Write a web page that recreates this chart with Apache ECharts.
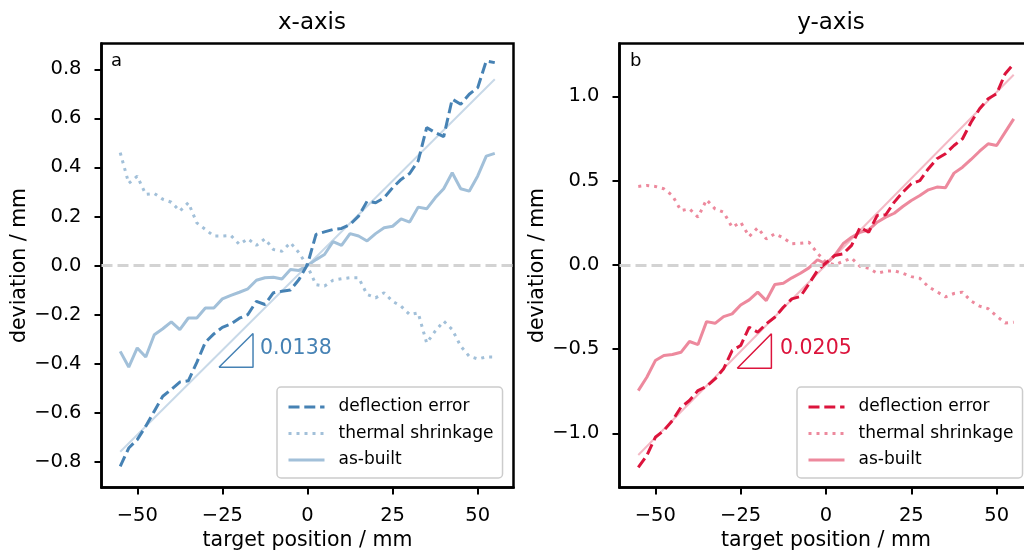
<!DOCTYPE html>
<html>
<head>
<meta charset="utf-8">
<script src="https://cdn.jsdelivr.net/npm/echarts@6/dist/echarts.min.js"></script>
<style>
  html, body { margin: 0; padding: 0; background: #fff; }
  #chart { width: 1024px; height: 550px; }
</style>
</head>
<body>
<div id="chart"></div>
<script>
// target positions (mm)
var xs = [-55, -52.5, -50, -47.5, -45, -42.5, -40, -37.5, -35, -32.5, -30, -27.5, -25, -22.5, -20, -17.5, -15, -12.5, -10, -7.5, -5, -2.5, 0,
  2.5, 5, 7.5, 10, 12.5, 15, 17.5, 20, 22.5, 25, 27.5, 30, 32.5, 35, 37.5, 40, 42.5, 45, 47.5, 50, 52.5, 55];

// panel a : x-axis
var defA = [-0.819, -0.744, -0.71, -0.655, -0.594, -0.533, -0.505, -0.475, -0.47, -0.395, -0.313, -0.279, -0.252, -0.238, -0.215, -0.2, -0.146, -0.159, -0.111, -0.105, -0.1, -0.057, 0.004,
  0.127, 0.137, 0.147, 0.151, 0.167, 0.201, 0.262, 0.256, 0.276, 0.317, 0.351, 0.375, 0.426, 0.562, 0.542, 0.525, 0.678, 0.657, 0.698, 0.725, 0.834, 0.827];
var thermA = [0.46, 0.335, 0.364, 0.29, 0.294, 0.27, 0.258, 0.222, 0.256, 0.174, 0.147, 0.12, 0.12, 0.122, 0.086, 0.109, 0.082, 0.109, 0.065, 0.058, 0.093, 0.052, -0.003,
  -0.078, -0.084, -0.06, -0.054, -0.05, -0.05, -0.118, -0.132, -0.111, -0.146, -0.166, -0.2, -0.193, -0.316, -0.268, -0.227, -0.261, -0.329, -0.37, -0.381, -0.373, -0.373];
var asA = [-0.35, -0.414, -0.336, -0.373, -0.282, -0.258, -0.23, -0.261, -0.214, -0.214, -0.173, -0.173, -0.136, -0.122, -0.109, -0.095, -0.06, -0.05, -0.048, -0.055, -0.016, -0.02, 0.0,
  0.024, 0.045, 0.097, 0.082, 0.13, 0.12, 0.1, 0.13, 0.154, 0.16, 0.19, 0.177, 0.238, 0.231, 0.276, 0.313, 0.378, 0.313, 0.303, 0.365, 0.446, 0.457];

// panel b : y-axis
var defB = [-1.201, -1.132, -1.023, -0.983, -0.924, -0.845, -0.805, -0.746, -0.722, -0.677, -0.617, -0.509, -0.479, -0.37, -0.4, -0.35, -0.311, -0.252, -0.202, -0.188, -0.113, -0.034, 0.012,
  0.055, 0.065, 0.115, 0.223, 0.193, 0.293, 0.297, 0.372, 0.431, 0.481, 0.5, 0.57, 0.629, 0.659, 0.708, 0.748, 0.846, 0.926, 0.985, 1.015, 1.134, 1.193];
var thermB = [0.465, 0.471, 0.465, 0.451, 0.411, 0.322, 0.332, 0.283, 0.386, 0.332, 0.312, 0.223, 0.253, 0.168, 0.22, 0.154, 0.184, 0.16, 0.125, 0.128, 0.134, 0.069, 0.015,
  0.0, 0.02, 0.04, -0.01, -0.02, -0.05, -0.038, -0.035, -0.05, -0.07, -0.08, -0.13, -0.16, -0.19, -0.17, -0.162, -0.215, -0.245, -0.26, -0.305, -0.345, -0.34];
var asB = [-0.746, -0.667, -0.568, -0.538, -0.532, -0.519, -0.455, -0.473, -0.337, -0.347, -0.307, -0.291, -0.238, -0.208, -0.162, -0.212, -0.117, -0.109, -0.077, -0.05, -0.018, 0.03, 0.006,
  0.055, 0.125, 0.164, 0.193, 0.208, 0.253, 0.283, 0.306, 0.346, 0.382, 0.411, 0.445, 0.461, 0.457, 0.544, 0.579, 0.625, 0.674, 0.718, 0.708, 0.787, 0.866];

// linear fits (end points) and slope triangles
var fitX = [-55, 55];
var fitA = [-0.759, 0.759];
var fitB = [-1.128, 1.128];
var triAX = [-26, -16, -16, -26];
var triAY = [-0.415, -0.415, -0.277, -0.415];
var triBX = [-26, -16, -16, -26];
var triBY = [-0.614, -0.614, -0.409, -0.614];

var xTicks = [-50, -25, 0, 25, 50];
var yTicksA = [-0.8, -0.6, -0.4, -0.2, 0, 0.2, 0.4, 0.6, 0.8];
var yTicksB = [-1, -0.5, 0, 0.5, 1];
var names = ['deflection error', 'thermal shrinkage', 'as-built'];

var FONT = 'DejaVu Sans';
var BLUE = '#4682b4', BLUE_L = '#a2c0d9', BLUE_F = '#c8d9e8';
var RED = '#dc143c', RED_L = '#ed899d', RED_F = '#f4b9c5';

function pts(x, y) {
  return x.map(function (v, i) { return [v, y[i]]; });
}
function minus(s) { return String(s).replace('-', '\u2212'); }

function xAx(i) {
  return {
    type: 'value', gridIndex: i, min: -60.5, max: 60.5,
    name: 'target position / mm', nameLocation: 'middle', nameGap: 38,
    nameTextStyle: { fontFamily: FONT, fontSize: 20.5, color: '#000' },
    axisLine: { show: true, onZero: false, lineStyle: { color: '#000', width: 2.5 } },
    axisTick: { show: true, length: 7, customValues: xTicks, lineStyle: { color: '#000', width: 2 } },
    axisLabel: { customValues: xTicks, margin: 18, fontFamily: FONT, fontSize: 19.5, color: '#000',
      formatter: function (v) { return minus(v); } },
    splitLine: { show: false }
  };
}
function yAx(i, min, max, ticks, dec) {
  return {
    type: 'value', gridIndex: i, min: min, max: max,
    name: 'deviation / mm', nameLocation: 'middle', nameGap: 67,
    nameTextStyle: { fontFamily: FONT, fontSize: 20.5, color: '#000' },
    axisLine: { show: true, onZero: false, lineStyle: { color: '#000', width: 2.5 } },
    axisTick: { show: true, length: 7, customValues: ticks, lineStyle: { color: '#000', width: 2 } },
    axisLabel: { customValues: ticks, margin: 20, fontFamily: FONT, fontSize: 19.5, color: '#000',
      formatter: function (v) { return minus(v.toFixed(dec)); } },
    splitLine: { show: false }
  };
}

function panel(i, tag, dev, therm, asb, fit, tx, ty, c, cl, cf) {
  var base = { type: 'line', xAxisIndex: i, yAxisIndex: i, symbol: 'none', showSymbol: false, silent: true, animation: false };
  return [
    Object.assign({}, base, {
      name: tag + '|fit', data: pts(fitX, fit), z: 1,
      lineStyle: { color: cf, width: 2 },
      markLine: { silent: true, symbol: ['none', 'none'], label: { show: false },
        lineStyle: { color: '#d3d3d3', width: 3, type: [11, 5] }, data: [{ yAxis: 0 }] }
    }),
    Object.assign({}, base, {
      name: tag + '|' + names[0], data: pts(xs, dev), z: 4,
      itemStyle: { color: c }, lineStyle: { color: c, width: 3, type: [11, 4.8] }
    }),
    Object.assign({}, base, {
      name: tag + '|' + names[1], data: pts(xs, therm), z: 3,
      itemStyle: { color: cl }, lineStyle: { color: cl, width: 3, type: [3, 5] }
    }),
    Object.assign({}, base, {
      name: tag + '|' + names[2], data: pts(xs, asb), z: 3,
      itemStyle: { color: cl }, lineStyle: { color: cl, width: 3 }
    }),
    Object.assign({}, base, {
      name: tag + '|tri', data: pts(tx, ty), z: 5,
      lineStyle: { color: c, width: 1.5 }
    })
  ];
}

function legend(tag, left) {
  return {
    orient: 'vertical', left: left, top: 387,
    data: names.map(function (n) { return tag + '|' + n; }),
    formatter: function (n) { return n.split('|')[1]; },
    itemWidth: 36, itemHeight: 14, itemGap: 6.5,
    padding: [10, 9, 8, 10],
    itemStyle: { color: 'transparent', borderWidth: 0, opacity: 0 },
    lineStyle: { width: 3 },
    backgroundColor: 'rgba(255,255,255,0.8)',
    borderColor: '#cccccc', borderWidth: 1.5, borderRadius: 4,
    selectedMode: false,
    textStyle: { fontFamily: FONT, fontSize: 17, lineHeight: 20, color: '#000', padding: [0, 0, 0, 9] }
  };
}

function gridBox(left, width) {
  return { left: left, top: 43.5, width: width, height: 444, outerBoundsMode: 'none', containLabel: false,
    show: true, borderColor: '#000', borderWidth: 2.5, backgroundColor: 'transparent' };
}

var chart = echarts.init(document.getElementById('chart'), null, { renderer: 'canvas' });
chart.setOption({
  backgroundColor: '#fff',
  animation: false,
  textStyle: { fontFamily: FONT },
  title: [
    { text: 'x-axis', left: 307, top: 7, textAlign: 'center',
      textStyle: { fontFamily: FONT, fontSize: 23, fontWeight: 'normal', color: '#000' } },
    { text: 'y-axis', left: 826, top: 7, textAlign: 'center',
      textStyle: { fontFamily: FONT, fontSize: 23, fontWeight: 'normal', color: '#000' } }
  ],
  grid: [gridBox(101.5, 412), gridBox(619.5, 413)],
  xAxis: [xAx(0), xAx(1)],
  yAxis: [yAx(0, -0.905, 0.905, yTicksA, 1), yAx(1, -1.321, 1.313, yTicksB, 1)],
  legend: [legend('a', 277), legend('b', 797)],
  graphic: [
    { type: 'text', left: 111, top: 52, style: { text: 'a', font: '18px "DejaVu Sans"', fill: '#000' } },
    { type: 'text', left: 630, top: 52, style: { text: 'b', font: '18px "DejaVu Sans"', fill: '#000' } },
    { type: 'text', left: 260, top: 338, style: { text: '0.0138', font: '20.5px "DejaVu Sans"', fill: BLUE } },
    { type: 'text', left: 780, top: 338, style: { text: '0.0205', font: '20.5px "DejaVu Sans"', fill: RED } }
  ],
  series: [].concat(
    panel(0, 'a', defA, thermA, asA, fitA, triAX, triAY, BLUE, BLUE_L, BLUE_F),
    panel(1, 'b', defB, thermB, asB, fitB, triBX, triBY, RED, RED_L, RED_F)
  )
});
</script>
</body>
</html>
